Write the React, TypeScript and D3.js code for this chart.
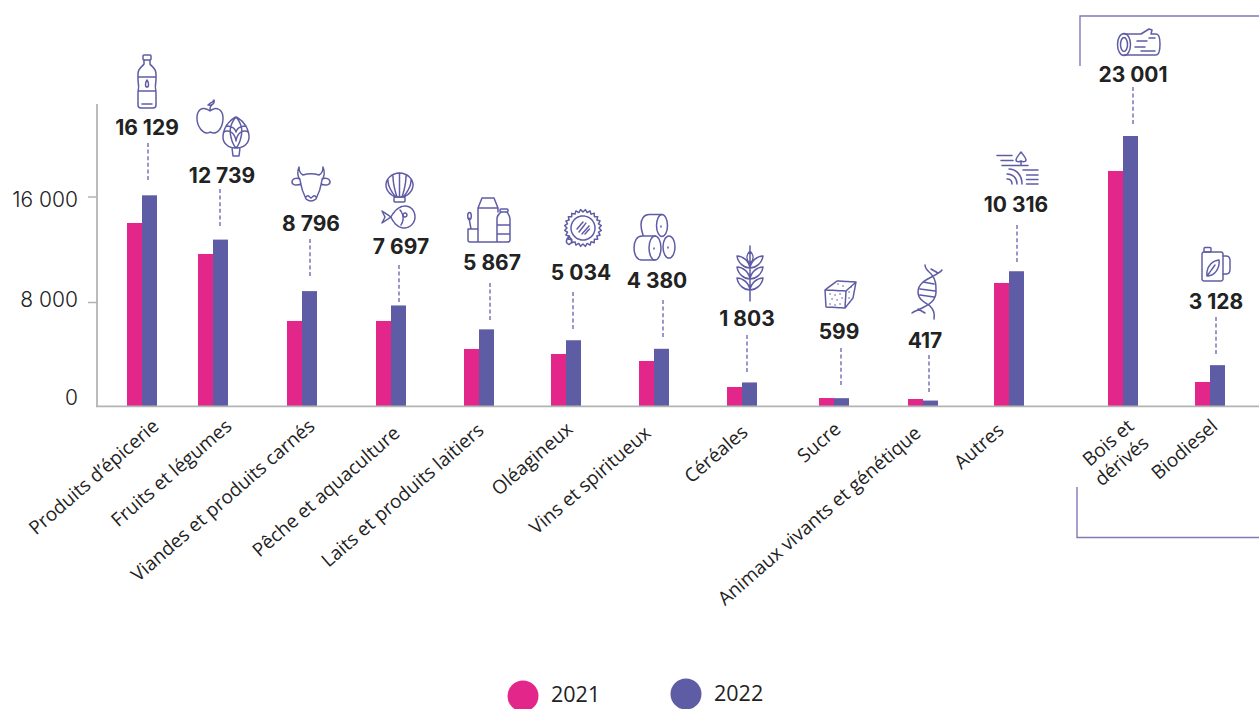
import React from "react";
import * as d3 from "d3";

// ---- data ----
const categories = [
  "Produits d’épicerie", "Fruits et légumes", "Viandes et produits carnés", "Pêche et aquaculture",
  "Laits et produits laitiers", "Oléagineux", "Vins et spiritueux", "Céréales", "Sucre",
  "Animaux vivants et génétique", "Autres", "Bois et dérivés", "Biodiesel",
];
const values2021 = [14010, 11640, 6510, 6510, 4365, 3980, 3445, 1455, 610, 535, 9420, 20020, 1840];
const values2022 = [16129, 12739, 8796, 7697, 5867, 5034, 4380, 1803, 599, 417, 10316, 23001, 3128];
const years = ["2021", "2022"];
const yTicks = [0, 8000, 16000];

// ---- layout (not data) ----
const W = 1259, H = 709;
const PINK = "#e3268a", PURPLE = "#5e5ca5", DASH = "#6f6bb2", INK = "#222222", GREY = "#b3b3b3";
const centers = [142, 213, 302, 391, 479, 566, 654, 742, 834, 923, 1009, 1123, 1210];
const labelX = [147, 222, 311, 401, 492, 581, 657, 747, 839, 925, 1016, 1133, 1216];
const labelY = [135, 183, 231, 254, 270, 280, 288, 326, 339, 348, 212, 82, 309];
const leaderX = [148, 220, 310, 399, 490, 573, 663, 747, 841, 929, 1017, 1133, 1216];
const leaderTop = [143, 189, 239, 265, 283, 292, 300, 335, 348, 355, 225, 87, 317];
const leaderLen = 38;
const catEnds: [number, number][] = [
  [160, 428], [233, 428], [316, 428], [401, 435], [485, 432], [574, 431], [652, 435], [749, 434], [842, 431],
  [922, 435], [1005, 432], [0, 0], [1219, 428],
];
const catAngle = -41;
const tickDy = [-1, 5, 10];
const tickLineDy = [0, 1, 0];

const x = d3.scaleOrdinal<string, number>().domain(categories).range(centers);
const y = d3.scaleLinear().domain([0, 16000]).range([406, 197]);
const yWood = d3.scaleLinear().domain([0, 23001]).range([406, 136]); // wood bar is drawn on its own shorter scale
const barW = 15;
const fmt = (v: number) => d3.format(",")(v).replace(/,/g, " ");

// ---- icons ----
const Icon = ({ at, d, dash, children }: { at: [number, number]; d?: string; dash?: string; children?: React.ReactNode }) => (
  <g transform={`translate(${at[0]},${at[1]})`} fill="none" stroke={PURPLE} strokeWidth={1.5} strokeLinejoin="round" strokeLinecap="round" strokeDasharray={dash}>
    {d && <path d={d} />}
    {children}
  </g>
);

const toothed = d3.lineRadial<number>()
  .angle((_, i) => (i / 48) * 2 * Math.PI)
  .radius((_, i) => (i % 2 ? 18.5 : 16))
  .curve(d3.curveLinearClosed)(d3.range(48)) as string;

const leaf = (Y: number) => `M14 ${Y} C8 ${Y} 2 ${Y - 5} 1 ${Y - 12} C7 ${Y - 12} 13 ${Y - 7} 14 ${Y}Z M14 ${Y} C20 ${Y} 26 ${Y - 5} 27 ${Y - 12} C21 ${Y - 12} 15 ${Y - 7} 14 ${Y}Z`;

const Icons = () => (
  <g>
    <Icon at={[138, 55]} d="M6 5 V9 C4 12 0 13 0 19 V25 C1 30 1 33 0 38 V50 Q0 53 3 53 H15 Q18 53 18 50 V38 C17 33 17 30 18 25 V19 C18 13 14 12 12 9 V5 M0 22 H18 M0 36 H18 M9 25 C7 28 7 32 9 32 C11 32 11 28 9 25Z M4 49 H14">
      <rect x={5} y={0} width={8} height={5} rx={1} />
    </Icon>
    <Icon at={[197, 100]} dash="3 .5" d="M13 11 C6 6 0 9 0 18 C0 27 6 33 10 33 C12 33 13 32 13 32 C13 32 15 33 17 33 C21 33 26 27 26 18 C26 9 19 6 13 11Z M13 11 C13 8 13 6 15 5 M11 5 C14 2 15 3 17 0 C18 3 15 6 11 5Z" />
    <Icon at={[223, 117]} dash="3 .5" d="M13 0 C18 2 26 10 26 20 C26 27 20 31 13 31 C6 31 0 27 0 20 C0 10 8 2 13 0Z M13 0 C8 6 6 12 8 20 C9 25 11 29 13 31 M13 0 C18 6 20 12 18 20 C17 25 15 29 13 31 M1 15 C6 12 12 16 13 24 M25 15 C20 12 14 16 13 24 M3 9 C8 9 12 11 13 15 M23 9 C18 9 14 11 13 15 M9 31 L10 39 H16 L17 31" />
    <Icon at={[292, 167]} d="M7 0 C5 5 6 10 8 13 C9 20 12 28 14 32 Q19 36 24 32 C26 28 29 20 30 13 C32 10 33 5 31 0 C31 4 29 7 27 8 C22 6.5 16 6.5 11 8 C9 7 7 4 7 0Z M8 12 C4 10 0 12 0 15 C0 18 4 19 9 17 M30 12 C34 10 38 12 38 15 C38 18 34 19 29 17 M14 30 C16 27 17 30 19 31 C21 30 22 27 24 30" />
    <Icon at={[386, 173]} dash="3 .5" d="M13.5 0 C20 0 27 5 27 12 C27 18 22 22 18 24 H9 C5 22 0 18 0 12 C0 5 7 0 13.5 0Z M13.5 0 V24 M7 3 C7 10 9 18 11 24 M20 3 C20 10 18 18 16 24 M2 7 C2 13 5 18 9 23 M25 7 C25 13 22 18 18 23">
      <rect x={8} y={24} width={11} height={5} rx={1} />
    </Icon>
    <Icon at={[382, 206]} dash="2.5 .7" d="M9 11 C13 3 19 0 23 0 C29 0 33 5 33 11 C33 17 28 22 22 22 C17 22 12 18 9 11Z M9 11 L0 5 L3 11 L0 17Z M18 4 C22 9 22 14 19 19">
      <circle cx={23} cy={9} r={2} />
    </Icon>
    <Icon at={[467, 198]} d="M11 44 V10 L15 0 H27 L31 10 V14 M11 10 H31 M31 44 H3 Q1 44 1 42 V31 H11 M30 27 H43 M30 36 H43 M34 14 C31 17 30 18 30 21 V44 H40 Q43 44 43 42 V21 C43 18 42 17 40 14 M4 31 L2 20">
      <rect x={33} y={11} width={8} height={3} rx={1} />
      <ellipse cx={2.5} cy={18} rx={1.8} ry={3.5} />
    </Icon>
    <Icon at={[583, 228]} d={toothed} dash="2.5 .4">
      <circle r={12} />
      <path d="M-4 4 L3 -5 M-6 1 L0 -6 M-1 6 L6 -2 M2 6 L6.5 1" strokeWidth={1.5} />
      <path d="M-14 8 C-17 12 -18 15 -14 16.5 C-10 15 -11 12 -14 8Z" strokeDasharray="none" />
    </Icon>
    <Icon at={[634, 214]} d="M28 0.5 H15 C10 0.5 7 5 7 11 C7 15 8 18 9 21 M21 22 H8 C3 22 0 27 0 34 C0 41 3 46 8 46 H21">
      <ellipse cx={28} cy={11.5} rx={5.5} ry={11} />
      <ellipse cx={21} cy={34} rx={6} ry={12} />
      <ellipse cx={35} cy={33} rx={6} ry={11} />
      <path d="M27 12 V13 M20 34 V35 M34 33 V34" />
    </Icon>
    <Icon at={[736, 246]} d={`${leaf(22)} ${leaf(33)} ${leaf(44)} M14 0 V55 M14 5 C10 9 10 14 14 18 C18 14 18 9 14 5Z`} />
    <Icon at={[825, 280]} dash="3 .4" d="M0 10 L12 1 L31 2 L21 11Z M0 10 L1 27 L20 28 L21 11 M20 28 L28 18 L31 2">
      <path d="M5 14 h.1 M10 15 h.1 M15 14 h.1 M7 19 h.1 M12 20 h.1 M17 18 h.1 M5 24 h.1 M10 25 h.1 M15 24 h.1 M24 12 h.1 M26 7 h.1 M24 18 h.1 M18 6 h.1 M13 4 h.1" strokeWidth={1.5} strokeDasharray="none" />
    </Icon>
    <Icon at={[911, 265]} d="M31 5 C26 12 7 14 7 27 C7 35 15 38 19 41 C22 44 24 49 23 54 M14 0 C14 5 19 7 21 10 C25 15 25 20 25 27 C25 35 18 40 13 42 C8 45 3 46 1 48 M12 17 L23 19 M9 24 L24 26 M9 30 L23 32 M20 4 L27 8 M7 44 L14 48" />
    <Icon at={[997, 152]} d="M0 3.5 H15 M4 8.5 H16 M5 13.5 H31 M24 13.5 V9 M24 0 C21 4 19 6 19 8 C19 10 22 10 24 9 C26 10 29 10 29 8 C29 6 27 4 24 0Z M26 18 H41 M29.5 23 H41 M29.5 27.5 H41 M29.5 32 H41 M15 32 C15 29 13 27 10 27 M20 32 C20 26 16 22 10 22 M25 32 C25 23 19 17 12 17" />
    <Icon at={[1117, 29]} d="M7 5 H24 L32 0 L35 1 L34 5 H39 C42 5 43 10 43 15 C43 21 42 26 39 26 H7 M20 12 H30 M18 18 H28 M24 22 H38 M32 9 H38">
      <ellipse cx={7} cy={15.5} rx={6.5} ry={11} />
      <ellipse cx={7} cy={15.5} rx={3.5} ry={7} />
    </Icon>
    <Icon at={[1201, 247]} dash="1.8 .6" d="M22 9 H25 Q29 9 29 14 V22 Q29 27 25 27 H22 M6 29 C5 21 10 14 18 13 C19 21 14 29 6 29Z M6 29 L14 18">
      <rect x={1} y={5} width={21} height={29} rx={2} />
      <rect x={3} y={0.5} width={7} height={4.5} rx={1} />
    </Icon>
  </g>
);

const numFont = "Inter, sans-serif";
const catFont = "'Open Sans', sans-serif";

export default function App() {
  return (
    <svg width={W} height={H} viewBox={`0 0 ${W} ${H}`} style={{ position: "absolute", left: 0, top: 0, background: "#fff" }}>
      {/* bars */}
      {categories.map((c, i) => {
        const s = c === "Bois et dérivés" ? yWood : y;
        return (
          <g key={c}>
            <rect x={x(c)! - barW} y={s(values2021[i])} width={barW} height={406 - s(values2021[i])} fill={PINK} />
            <rect x={x(c)!} y={s(values2022[i])} width={barW} height={406 - s(values2022[i])} fill={PURPLE} />
          </g>
        );
      })}
      {/* axes */}
      <line x1={97} x2={97} y1={104} y2={407} stroke="#a5a3aa" strokeWidth={1.5} />
      <line x1={96} x2={W} y1={406.3} y2={406.3} stroke={GREY} strokeWidth={1.8} />
      {yTicks.map((t, i) => (
        <g key={t}>
          {t > 0 && <line x1={88} x2={97} y1={y(t) + tickLineDy[i]} y2={y(t) + tickLineDy[i]} stroke={GREY} strokeWidth={1.5} />}
          <text x={78} y={y(t) + tickDy[i]} textAnchor="end" fontFamily={numFont} fontWeight={300} fontSize={21} fill={INK}>{fmt(t)}</text>
        </g>
      ))}
      {/* leaders and value labels */}
      {categories.map((c, i) => (
        <g key={c}>
          <line x1={leaderX[i]} x2={leaderX[i]} y1={leaderTop[i]} y2={leaderTop[i] + leaderLen} stroke={DASH} strokeWidth={1.4} strokeDasharray="4 2.6" />
          <text x={labelX[i]} y={labelY[i]} textAnchor="middle" fontFamily={numFont} fontWeight={700} fontSize={21} fill={INK}>{fmt(values2022[i])}</text>
        </g>
      ))}
      {/* category labels */}
      {categories.map((c, i) =>
        c === "Bois et dérivés" ? (
          <g key={c} fontFamily={catFont} fontSize={19} fill={INK} textAnchor="end">
            <text transform={`translate(1135,428) rotate(${catAngle})`}>Bois et</text>
            <text transform={`translate(1150,445) rotate(${catAngle})`}>dérivés</text>
          </g>
        ) : (
          <text key={c} transform={`translate(${catEnds[i][0]},${catEnds[i][1]}) rotate(${catAngle})`} textAnchor="end" fontFamily={catFont} fontSize={19} fill={INK}>{c}</text>
        )
      )}
      <Icons />
      {/* frame around the non-food group */}
      <path d={`M1080 66 V16 H${W}`} fill="none" stroke="#7f7bb9" strokeWidth={1.4} />
      <path d={`M1077 487 V537.5 H${W}`} fill="none" stroke="#7f7bb9" strokeWidth={1.4} />
      {/* legend */}
      <circle cx={523} cy={696} r={15.5} fill={PINK} />
      <text x={551} y={702} fontFamily={catFont} fontSize={21.5} fill={INK}>{years[0]}</text>
      <circle cx={686} cy={694} r={15.5} fill={PURPLE} />
      <text x={714} y={701} fontFamily={catFont} fontSize={21.5} fill={INK}>{years[1]}</text>
    </svg>
  );
}
